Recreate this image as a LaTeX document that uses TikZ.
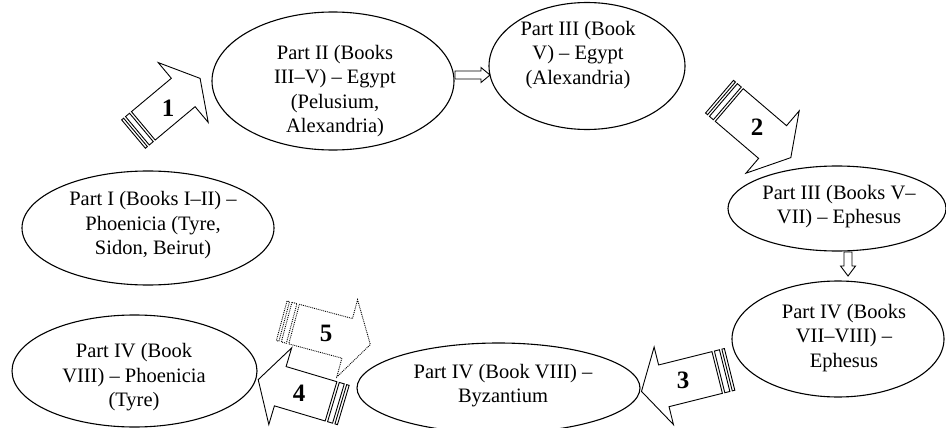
\documentclass[tikz,border=0pt]{standalone}
\usepackage{fontspec}
\setmainfont{Liberation Serif}
\usetikzlibrary{shapes.geometric}
\begin{document}
\begin{tikzpicture}[x=1pt,y=-1pt,
  oval/.style={draw, ellipse, line width=1.1pt, inner sep=0pt},
  lbl/.style={align=center, font=\fontsize{20.5}{24.5}\selectfont, inner sep=0pt},
  num/.style={font=\fontsize{25}{30}\selectfont\bfseries, inner sep=0pt},
  blk/.style={draw, line width=0.9pt, line join=miter},
  ghost/.style={blk, densely dotted},
  pics/striparrow/.style args={#1/#2/#3/#4/#5}{code={
     \draw[#5] (0,-#1/2) rectangle (2.6,#1/2);
     \draw[#5] (5.1,-#1/2) rectangle (10.3,#1/2);
     \draw[#5] (12.8,-#1/2) -- (12.8+#2,-#1/2) -- (12.8+#2,-#4) -- (12.8+#2+#3,0)
        -- (12.8+#2,#4) -- (12.8+#2,#1/2) -- (12.8,#1/2) -- cycle;
  }}
]
\useasboundingbox (0,0) rectangle (946,428);

% ellipses
\node[oval, minimum width=252pt, minimum height=114pt] (p1) at (148,228) {};
\node[lbl] (t1) at (153,225.5) {Part I (Books I–II) –\\Phoenicia (Tyre,\\Sidon, Beirut)};

\node[oval, minimum width=242pt, minimum height=138pt] (p2) at (333,81) {};
\node[lbl] (t2) at (335,91) {Part II (Books\\III–V) – Egypt\\(Pelusium,\\Alexandria)};

\node[oval, minimum width=196pt, minimum height=127pt] (p3) at (587,66) {};
\node[lbl] (t3) at (578,55) {Part III (Book\\V) – Egypt\\(Alexandria)};

\node[oval, minimum width=218pt, minimum height=85pt] (p4) at (837,208.5) {};
\node[lbl] (t4) at (839,206.5) {Part III (Books V–\\VII) – Ephesus};

\node[oval, minimum width=212pt, minimum height=116pt] (p5) at (838,339) {};
\node[lbl] (t5) at (844,338) {Part IV (Books\\VII–VIII) –\\Ephesus};

\node[oval, minimum width=283pt, minimum height=90pt] (p6) at (498.5,388) {};
\node[lbl] (t6) at (503,385.5) {Part IV (Book VIII) –\\Byzantium};

\node[oval, minimum width=245pt, minimum height=112pt] (p7) at (134.5,371) {};
\node[lbl] (t7) at (134,377.5) {Part IV (Book\\VIII) – Phoenicia\\(Tyre)};

% striped block arrows
\pic[rotate=39.9] (a1) at (133.5,134.05) {striparrow=37/52/22/39/blk};
\pic[rotate=-40.5] (a2) at (719.5,96.7) {striparrow=43/57/24/41/blk};
\pic[rotate=194] (a3) at (729.6,369.4) {striparrow=43/55/23/40/blk};
\pic[rotate=163.4] (a4) at (343.3,405) {striparrow=41/53/23/40/blk};
\pic[rotate=-15] (a5) at (281.7,320.8) {striparrow=41/55/24/40/ghost};

\node[num] (n1) at (168,108) {1};
\node[num] (n2) at (757,127) {2};
\node[num] (n3) at (683,380) {3};
\node[num] (n4) at (299,393) {4};
\node[num] (n5) at (326,333) {5};

% small block arrows
\draw[blk] (455,71) -- (481,71) -- (481,67.5) -- (490,75) -- (481,82.5) -- (481,79) -- (455,79) -- cycle;
\draw[blk] (844,252) -- (844,266) -- (840.5,266) -- (848,276) -- (855.5,266) -- (852,266) -- (852,252) -- cycle;
\end{tikzpicture}
\end{document}
